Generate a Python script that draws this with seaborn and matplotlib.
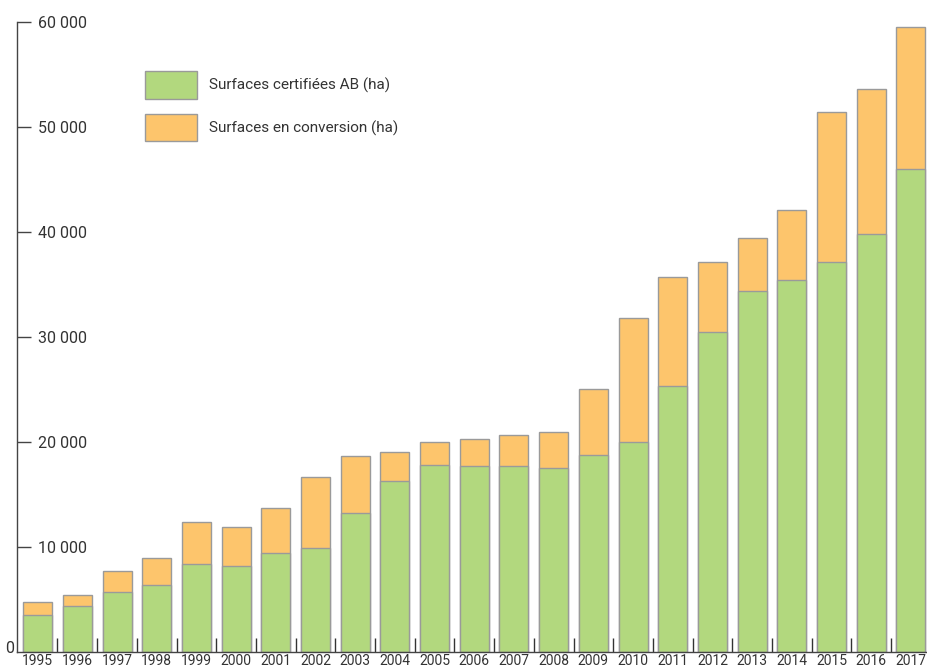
import matplotlib
matplotlib.use("Agg")
import matplotlib.pyplot as plt
import matplotlib.transforms as mtransforms
from matplotlib.patches import Patch
import seaborn as sns
import pandas as pd

# --- Data (hectares) ---
years = [str(y) for y in range(1995, 2018)]
certified_ab = [3530, 4380, 5720, 6390, 8390, 8200, 9430, 9910, 13250, 16300,
                17820, 17730, 17730, 17540, 18770, 20010, 25350, 30500, 34400,
                35450, 37170, 39840, 46030]
total_surface = [4770, 5430, 7720, 8960, 12390, 11910, 13720, 16680, 18680, 19060,
                 20010, 20300, 20680, 20970, 25060, 31830, 35740, 37170, 39450,
                 42120, 51460, 53650, 59560]
y_ticks = [10000, 20000, 30000, 40000, 50000, 60000]
label_ab = "Surfaces certifiées AB (ha)"
label_conv = "Surfaces en conversion (ha)"

GREEN = "#B2D87E"
ORANGE = "#FDC56C"
EDGE = "#9a9a9a"
TEXT = "#333333"

df = pd.DataFrame({"year": years, "ab": certified_ab, "total": total_surface})

sns.set_style("white")
plt.rcParams["font.family"] = ["Roboto", "DejaVu Sans"]

fig = plt.figure(figsize=(9.28, 6.68), dpi=100)
ax = fig.add_axes([17 / 928, 16.3 / 668, 1 - 17 / 928, (651.7 - 22) / 668])

# stacked bars: total (orange) behind, certified (green) in front
sns.barplot(data=df, x="year", y="total", color=ORANGE, width=0.73,
            edgecolor=EDGE, linewidth=1.0, saturation=1, ax=ax)
sns.barplot(data=df, x="year", y="ab", color=GREEN, width=0.73,
            edgecolor=EDGE, linewidth=1.0, saturation=1, ax=ax)

ax.set_xlim(-0.52, len(years) - 1 + 0.43)
ax.set_ylim(0, 60000)
ax.set_xlabel("")
ax.set_ylabel("")

# spines
for side in ["top", "right"]:
    ax.spines[side].set_visible(False)
for side in ["left", "bottom"]:
    ax.spines[side].set_color("#444444")
    ax.spines[side].set_linewidth(1.0)

# x axis: labels under bars, little tick marks between bars
ax.set_xticks(range(len(years)))
ax.set_xticklabels(years)
ax.set_xticks([i + 0.5 for i in range(len(years) - 1)], minor=True)
ax.tick_params(axis="x", which="major", length=0, pad=2, labelsize=10, labelcolor=TEXT)
ax.tick_params(axis="x", which="minor", direction="in", length=10, width=1.0,
               color="#333333", bottom=True)

# y axis: ticks pointing inwards, labels inside the plot
ax.set_yticks(y_ticks)
ax.set_yticklabels([f"{v:,}".replace(",", " ") for v in y_ticks])
ax.tick_params(axis="y", direction="in", length=10, width=1.0, color="#444444",
               pad=-15, labelsize=11.5, labelcolor=TEXT, left=True)
for lab in ax.get_yticklabels():
    lab.set_horizontalalignment("left")

# the "0" sits outside, left of the axis
trans = mtransforms.blended_transform_factory(fig.transFigure, ax.transData)
ax.text(14 / 928, 300, "0", transform=trans, ha="right", va="center",
        fontsize=11.5, color=TEXT)

handles = [Patch(facecolor=GREEN, edgecolor=EDGE, label=label_ab),
           Patch(facecolor=ORANGE, edgecolor=EDGE, label=label_conv)]
ax.legend(handles=handles, loc="upper left", bbox_to_anchor=(145 / 928, 1 - 71 / 668),
          bbox_transform=fig.transFigure, frameon=False, fontsize=11,
          handlelength=3.4, handleheight=2.4, labelspacing=1.0,
          handletextpad=0.8, borderaxespad=0, borderpad=0, labelcolor=TEXT)

plt.savefig("out.png", dpi=100)
